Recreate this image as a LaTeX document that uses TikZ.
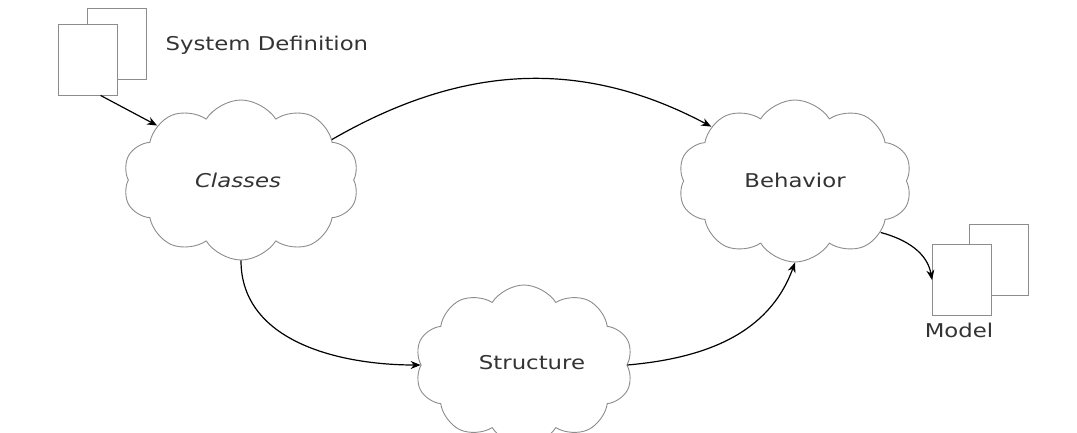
\documentclass[tikz,border=0pt]{standalone}
\usepackage{fontspec}
\setmainfont[FakeStretch=1.2]{DejaVu Sans}
\usetikzlibrary{shapes.symbols,arrows.meta}
\begin{document}
\begin{tikzpicture}[x=1pt,y=-1pt,
  cloudnode/.style={cloud, cloud puffs=10, cloud puff arc=115, cloud ignores aspect,
    draw=black!45, line width=0.9pt, fill=white, inner sep=0pt},
  docbox/.style={draw=black!45, line width=0.9pt, fill=white, minimum width=59pt, minimum height=71pt, inner sep=0pt},
  lbl/.style={text=black!80, font=\fontsize{19}{22}\selectfont},
  conn/.style={draw=black, line width=1.2pt, -{Stealth[length=10pt,width=8pt]}}]
\path[use as bounding box] (0,0) rectangle (1077,432);
\clip (0,0) rectangle (1077,432);
% System definition document
\node[docbox] (sd2) at (117,43.5) {};
\node[docbox] (sd1) at (87.5,59.5) {};
\node[lbl, anchor=west] (sdl) at (162,45) {System Definition};
% Model document
\node[docbox] (m2) at (999,260) {};
\node[docbox] (m1) at (962,280) {};
\node[lbl] (ml) at (959,330) {Model};
% clouds
\node[cloudnode, minimum width=236pt, minimum height=160pt] (cl) at (241,180) {};
\node[lbl, font=\fontsize{19}{22}\selectfont\itshape] (cll) at (238,180) {Classes};
\node[cloudnode, minimum width=234pt, minimum height=162pt] (be) at (795,181) {};
\node[lbl] (bel) at (795,180) {Behavior};
\node[cloudnode, minimum width=218pt, minimum height=160pt] (st) at (524,365) {};
\node[lbl] (stl) at (532,363) {Structure};
% connectors
\draw[conn] (sd1.-70) -- (cl.147);
\draw[conn] (cl.24) to[out=30,in=152] (be.147);
\draw[conn] (cl.-90) to[out=-90,in=180] (st.180);
\draw[conn] (st.0) to[out=5,in=-110] (be.-90);
\draw[conn] (be.-31) to[out=-15,in=100] (m1.west);
\end{tikzpicture}
\end{document}
